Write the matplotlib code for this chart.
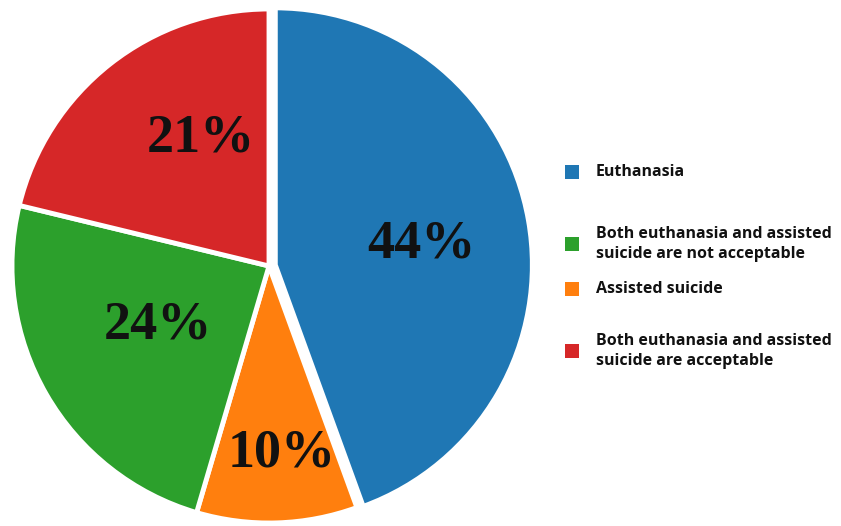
import matplotlib
matplotlib.use("Agg")
import matplotlib.pyplot as plt
from matplotlib.patches import Rectangle
import numpy as np

categories = ["Euthanasia",
              "Assisted suicide",
              "Both euthanasia and assisted\nsuicide are not acceptable",
              "Both euthanasia and assisted\nsuicide are acceptable"]
values = [44, 10, 24, 21]
colors = ["#1f77b4", "#ff7f0e", "#2ca02c", "#d62728"]

legend_order = [0, 2, 1, 3]
legend_y = [172, 244, 289, 351]  # px from top, centre of entry

W, H = 841, 526
fig = plt.figure(figsize=(W / 100, H / 100), dpi=100)

cx, cy, r = 269, 266, 257
lim = 1.08
half = r * lim
ax = fig.add_axes([(cx - half) / W, (H - cy - half) / H, 2 * half / W, 2 * half / H])

explode = [0.025, 0.0, 0.0, 0.0]
wedges, _ = ax.pie(values, colors=colors, startangle=90, counterclock=False,
                   explode=explode, radius=1.0,
                   wedgeprops=dict(edgecolor="white", linewidth=3.5))
for w in wedges:
    w.set_clip_on(False)
ax.set_xlim(-lim, lim)
ax.set_ylim(-lim, lim)
ax.set_aspect("equal")
ax.axis("off")

label_dist = [0.6, 0.73, 0.49, 0.565]
label_dang = [-2, 2, -2, -10]
for w, v, d, da in zip(wedges, values, label_dist, label_dang):
    ang = np.deg2rad((w.theta1 + w.theta2) / 2 + da)
    ax.text(d * np.cos(ang), d * np.sin(ang), f"{v}%",
            ha="center", va="center", fontsize=39, fontweight="bold",
            family="Liberation Serif", color="#111111")

for idx, yy in zip(legend_order, legend_y):
    fig.patches.append(Rectangle(((565) / W, (H - yy - 7) / H), 14 / W, 14 / H,
                                 transform=fig.transFigure, facecolor=colors[idx],
                                 edgecolor="none"))
    fig.text(596 / W, (H - yy) / H, categories[idx], ha="left", va="center",
             fontsize=11.5, fontweight="bold", family="Open Sans",
             color="#111111", linespacing=1.35)

fig.savefig("out.png", dpi=100)
